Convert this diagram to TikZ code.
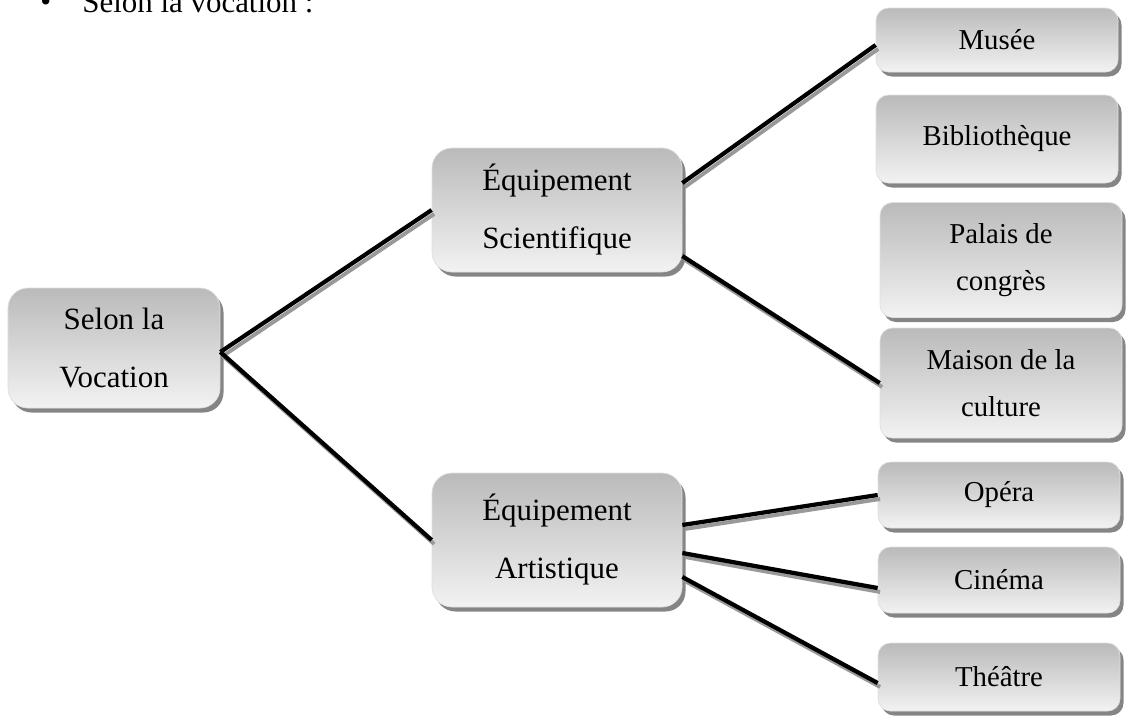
\documentclass[tikz,border=0pt]{standalone}
\usepackage{fontspec}
\setmainfont{Liberation Serif}
\usetikzlibrary{shadows, calc}

\tikzset{
	box/.style={rectangle, rounded corners=0.4cm, top color=black!27, bottom color=black!5,
		draw=black!12, align=center, inner sep=0pt,
		drop shadow={shadow xshift=0.07cm, shadow yshift=-0.09cm, fill=black!48, opacity=1},
		font=\fontsize{17.6}{33}\selectfont},
	leaf/.style={box, rounded corners=0.25cm, minimum width=4.84cm, font=\fontsize{16.4}{27}\selectfont},
	link/.style={line width=2.4pt, black,
		preaction={draw=black!40, line width=2.2pt, transform canvas={shift={(0.05cm,-0.08cm)}}}}
}

\begin{document}
\begin{tikzpicture}

	\useasboundingbox (0,0) rectangle (22.54,-14.4);

	% heading, cut by the page edge
	\node [anchor=base west, font=\fontsize{17.6}{20}\selectfont, inner sep=0pt] (bullet) at (0.8,-0.22) {\textbullet};
	\node [anchor=base west, font=\fontsize{17.6}{20}\selectfont, inner sep=0pt] (heading) at (1.64,-0.24) {Selon la vocation :};

	% main boxes
	\node [box, minimum width=4.24cm, minimum height=2.4cm] (selon) at (2.28,-6.96) {Selon la\\Vocation};
	\node [box, minimum width=5cm, minimum height=2.48cm] (scient) at (11.14,-4.2) {Équipement\\Scientifique};
	\node [box, minimum width=5cm, minimum height=2.68cm] (artist) at (11.14,-10.8) {Équipement\\Artistique};

	% right column
	\node [leaf, minimum height=1.28cm] (musee) at (19.94,-0.8) {Musée};
	\node [leaf, minimum height=1.76cm] (biblio) at (19.94,-2.78) {Bibliothèque};
	\node [leaf, minimum height=2.3cm] (palais) at (20.02,-5.2) {Palais de\\congrès};
	\node [leaf, minimum height=2.2cm] (maison) at (20.02,-7.66) {Maison de la\\culture};
	\node [leaf, minimum height=1.32cm] (opera) at (19.98,-9.9) {Opéra};
	\node [leaf, minimum height=1.32cm] (cinema) at (19.98,-11.6) {Cinéma};
	\node [leaf, minimum height=1.36cm] (theatre) at (19.98,-13.54) {Théâtre};

	% connectors
	\draw [link] ([yshift=-0.08cm]selon.east) -- (scient.west);
	\draw [link] ([yshift=-0.08cm]selon.east) -- (artist.west);
	\draw [link] ([yshift=0.54cm]scient.east) -- ([yshift=-0.1cm]musee.west);
	\draw [link] ([yshift=-0.92cm]scient.east) -- (maison.west);
	\draw [link] ([yshift=0.3cm]artist.east) -- (opera.west);
	\draw [link] ([yshift=-0.26cm]artist.east) -- ([yshift=-0.16cm]cinema.west);
	\draw [link] ([yshift=-0.74cm]artist.east) -- ([yshift=-0.12cm]theatre.west);

\end{tikzpicture}
\end{document}
